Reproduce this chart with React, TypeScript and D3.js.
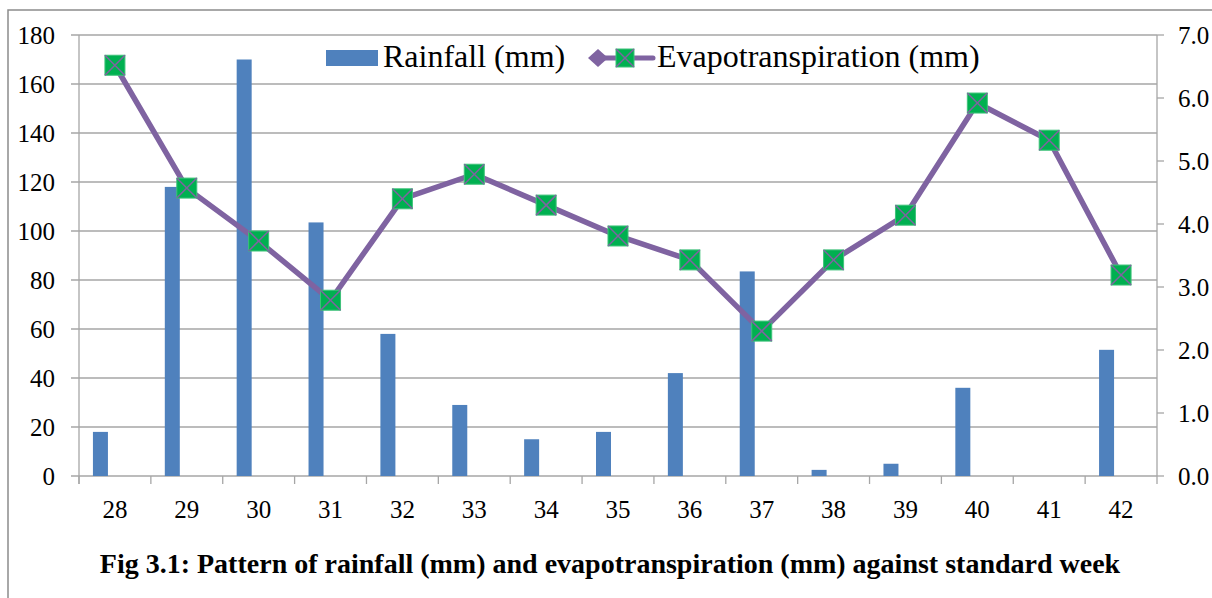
import React from "react";
import * as d3 from "d3";

const weeks = ["28", "29", "30", "31", "32", "33", "34", "35", "36", "37", "38", "39", "40", "41", "42"];
const rainfall = [18, 118, 170, 103.5, 58, 29, 15, 18, 42, 83.5, 2.5, 5, 36, 0, 51.5];
const evapo = [6.52, 4.57, 3.73, 2.79, 4.4, 4.79, 4.3, 3.81, 3.43, 2.3, 3.43, 4.14, 5.92, 5.33, 3.19];
const leftTicks = [0, 20, 40, 60, 80, 100, 120, 140, 160, 180];
const rightTicks = [0, 1, 2, 3, 4, 5, 6, 7];

const W = 1212;
const H = 598;
const L = 79;
const R = 1157;
const T = 35;
const B = 476;
const FONT = '"Liberation Serif", Tinos, "Times New Roman", Times, "DejaVu Serif", serif';
const GRID = "#a6a6a6";
const BAR = "#4F81BD";
const LINE = "#7F63A1";
const MARK = "#00B050";

const txt = { fontFamily: FONT } as React.CSSProperties;

export default function App() {
  const x = d3.scaleBand<string>().domain(weeks).range([L, R]).padding(0);
  const yL = d3.scaleLinear().domain([0, 180]).range([B, T]);
  const yR = d3.scaleLinear().domain([0, 7]).range([B, T]);
  const bw = x.bandwidth();
  const cx = (w: string) => (x(w) as number) + bw / 2;
  const linePath = d3
    .line<number>()
    .x((_, i) => cx(weeks[i]))
    .y((d) => yR(d))(evapo) as string;

  const marker = (mx: number, my: number, s: number, key?: string) => (
    <g key={key}>
      <rect x={mx - s / 2} y={my - s / 2} width={s} height={s} fill={MARK} stroke="#3fc27a" strokeWidth={1} />
      <line x1={mx - s / 2} y1={my - s / 2} x2={mx + s / 2} y2={my + s / 2} stroke={LINE} strokeWidth={1.5} />
      <line x1={mx - s / 2} y1={my + s / 2} x2={mx + s / 2} y2={my - s / 2} stroke={LINE} strokeWidth={1.5} />
    </g>
  );

  return (
    <svg width={W} height={H} style={{ position: "absolute", left: 0, top: 0, background: "#fff", fontFamily: FONT }}>
      <rect x={0} y={0} width={W} height={H} fill="#fff" />
      <rect x={8} y={10} width={W + 20} height={H + 20} fill="none" stroke="#8c8c8c" strokeWidth={1.5} />

      {leftTicks.map((t) => (
        <line key={"g" + t} x1={L - 8} x2={R} y1={yL(t)} y2={yL(t)} stroke={GRID} strokeWidth={1.3} />
      ))}
      {rightTicks.map((t) => (
        <line key={"rt" + t} x1={R} x2={R + 7} y1={yR(t)} y2={yR(t)} stroke={GRID} strokeWidth={1.3} />
      ))}
      <line x1={L} x2={L} y1={T} y2={B + 8} stroke={GRID} strokeWidth={1.3} />
      <line x1={R} x2={R} y1={T} y2={B + 8} stroke={GRID} strokeWidth={1.3} />
      {weeks.map((w) => (
        <line key={"xt" + w} x1={x(w) as number} x2={x(w) as number} y1={B} y2={B + 8} stroke={GRID} strokeWidth={1.3} />
      ))}

      {rainfall.map((v, i) => (
        <rect key={"b" + i} x={cx(weeks[i]) - 22} y={yL(v)} width={15} height={B - yL(v)} fill={BAR} />
      ))}

      <path d={linePath} fill="none" stroke={LINE} strokeWidth={5.5} strokeLinejoin="round" />
      {evapo.map((v, i) => marker(cx(weeks[i]), yR(v), 20, "m" + i))}

      {leftTicks.map((t) => (
        <text key={"lt" + t} x={55} y={yL(t) + 9} textAnchor="end" fontSize={25} fill="#000" style={txt}>
          {t}
        </text>
      ))}
      {rightTicks.map((t) => (
        <text key={"rl" + t} x={1178} y={yR(t) + 9} textAnchor="start" fontSize={25} fill="#000" style={txt}>
          {d3.format(".1f")(t)}
        </text>
      ))}
      {weeks.map((w) => (
        <text key={"xl" + w} x={cx(w)} y={518} textAnchor="middle" fontSize={25} fill="#000" style={txt}>
          {w}
        </text>
      ))}

      <rect x={326} y={50} width={52} height={16} fill={BAR} />
      <text x={383} y={67} fontSize={32} fill="#000" style={txt}>Rainfall (mm)</text>
      <line x1={598} x2={653} y1={58} y2={58} stroke={LINE} strokeWidth={5} strokeLinecap="round" />
      <path d="M588,58 L598,49 L608,58 L598,67 Z" fill={LINE} />
      {marker(625, 58, 18)}
      <text x={657} y={67} fontSize={32} fill="#000" style={txt}>Evapotranspiration (mm)</text>

      <text x={610} y={573} textAnchor="middle" fontSize={28} fontWeight="bold" fill="#000" style={txt}>
        Fig 3.1: Pattern of rainfall (mm) and evapotranspiration (mm) against standard week
      </text>
    </svg>
  );
}
